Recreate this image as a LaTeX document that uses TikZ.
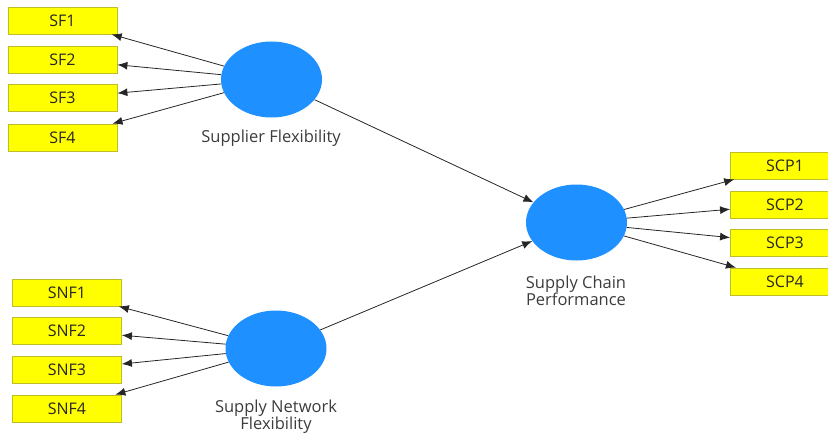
\documentclass[tikz,border=0pt]{standalone}
\usepackage{fontspec}
\setmainfont{Open Sans}
\usetikzlibrary{arrows.meta, shapes.geometric}

\definecolor{indyellow}{RGB}{255,255,0}
\definecolor{indborder}{RGB}{190,190,40}
\definecolor{latblue}{RGB}{30,144,255}
\definecolor{labgray}{RGB}{60,60,60}

\tikzset{
    indicator/.style={draw=indborder, fill=indyellow, line width=0.8pt,
        minimum width=109pt, minimum height=27pt, inner sep=0pt,
        font=\fontsize{16}{17}\selectfont, text=black!85},
    latent/.style={ellipse, fill=latblue, inner sep=0pt,
        minimum width=101pt, minimum height=76pt},
    latlabel/.style={font=\fontsize{16.5}{17}\selectfont, text=labgray, align=center},
    pathline/.style={draw=black!85, line width=0.8pt, -{Latex[length=10pt,width=8pt]}}
}

\begin{document}
\begin{tikzpicture}[x=1pt, y=-1pt]

    \useasboundingbox (0,0) rectangle (828,436);
    \clip (0,0) rectangle (828,436);

    % Latent variables
    \node[latent] (sf) at (271.5,79.5) {};
    \node[latent] (snf) at (276,348.5) {};
    \node[latent] (scp) at (576.5,222.5) {};

    \node[latlabel] (sflab) at (271,138) {Supplier Flexibility};
    \node[latlabel] (snflab) at (276,417) {Supply Network\\Flexibility};
    \node[latlabel] (scplab) at (576,291) {Supply Chain\\Performance};

    % Supplier Flexibility indicators
    \foreach \i/\y in {1/20.5, 2/59.5, 3/98, 4/137.5} {
        \node[indicator] (sf\i) at (62.5,\y) {SF\i};
        \draw[pathline] (sf) -- (sf\i);
    }

    % Supply Network Flexibility indicators
    \foreach \i/\y in {1/292.5, 2/330.5, 3/369.5, 4/408.5} {
        \node[indicator] (snf\i) at (67,\y) {SNF\i};
        \draw[pathline] (snf) -- (snf\i);
    }

    % Supply Chain Performance indicators
    \foreach \i/\y in {1/165.5, 2/204.5, 3/243, 4/281.5} {
        \node[indicator] (scp\i) at (785,\y) {SCP\i};
        \draw[pathline] (scp) -- (scp\i);
    }

    % Structural paths
    \draw[pathline] (sf) -- (scp);
    \draw[pathline] (snf) -- (scp);

\end{tikzpicture}
\end{document}
